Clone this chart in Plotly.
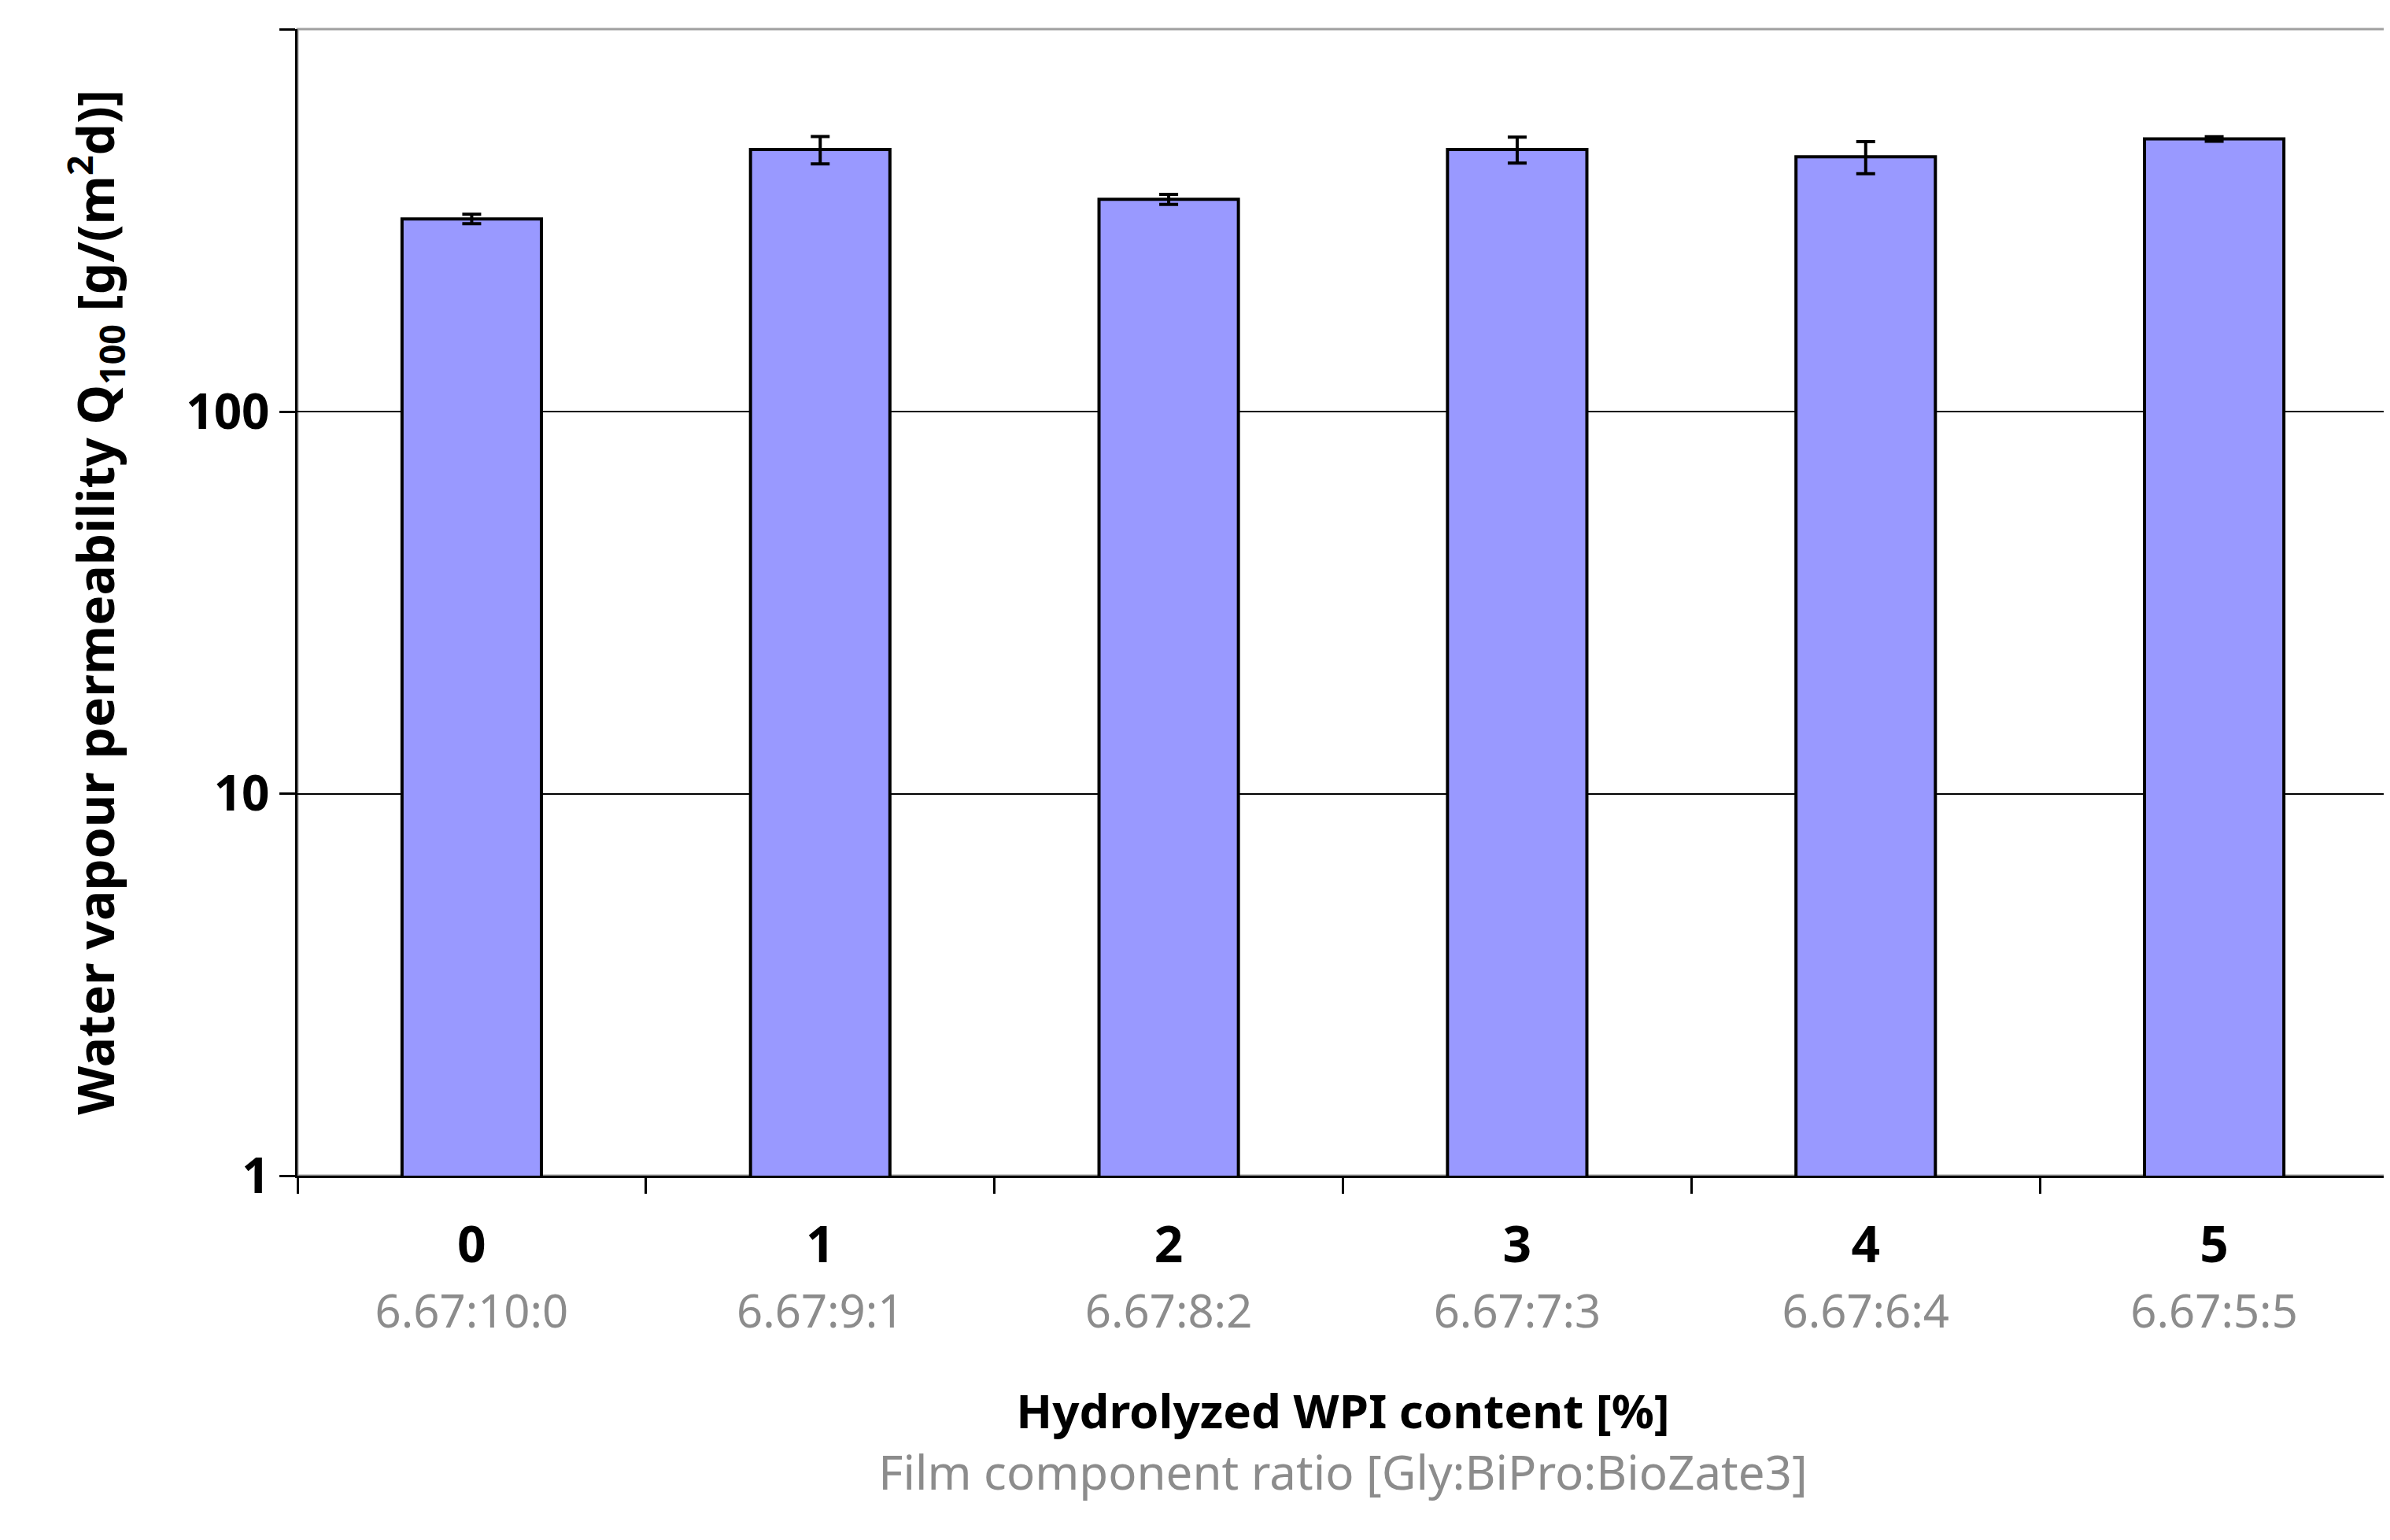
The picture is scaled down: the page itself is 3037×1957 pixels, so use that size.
import plotly.graph_objects as go

# --- data ---
hwpi = ["0", "1", "2", "3", "4", "5"]
ratios = ["6.67:10:0", "6.67:9:1", "6.67:8:2", "6.67:7:3", "6.67:6:4", "6.67:5:5"]
q100 = [320, 486, 360, 486, 465, 518]
q100_err = [9, 40, 11, 38, 45, 7]

GRAY = "#8c8c8c"
FONT = "Noto Sans"

ticktext = [f"<b>{a}</b><br><span style='color:{GRAY};font-weight:normal;font-size:58px'>{b}</span>"
            for a, b in zip(hwpi, ratios)]

fig = go.Figure()
fig.add_trace(go.Bar(
    x=hwpi, y=q100,
    width=0.4,
    marker=dict(color="#9999ff", line=dict(color="black", width=4)),
    error_y=dict(type="data", array=q100_err, visible=True,
                 color="black", thickness=4, width=12),
))

# gray frame on top/right
fig.add_shape(type="rect", xref="paper", yref="paper", x0=0, x1=1, y0=0, y1=1,
              line=dict(color="#a0a0a0", width=3), layer="below")

fig.update_layout(
    width=3037, height=1957,
    paper_bgcolor="white", plot_bgcolor="white",
    font=dict(family=FONT, color="black"),
    margin=dict(l=370, r=10, t=29, b=471),
    bargap=0.6,
    showlegend=False,
)
fig.update_xaxes(
    tickmode="array", tickvals=hwpi, ticktext=ticktext,
    tickfont=dict(size=64, color="black"),
    showline=True, linecolor="black", linewidth=3,
    ticks="outside", tickson="boundaries", ticklen=20, tickcolor="black", tickwidth=3,
    ticklabelstandoff=30,
    title=dict(
        text=f"<b>Hydrolyzed WPI content [%]</b><br><span style='color:{GRAY};font-weight:normal;font-size:60px'>Film component ratio [Gly:BiPro:BioZate3]</span>",
        font=dict(size=60, color="black"), standoff=70),
)
fig.update_yaxes(
    type="log", range=[0, 3.002],
    tickvals=[1, 10, 100, 1000], ticktext=["<b>1</b>", "<b>10</b>", "<b>100</b>", "<b>1000</b>"],
    tickfont=dict(size=62, color="black"),
    showline=True, linecolor="black", linewidth=3,
    ticks="outside", ticklen=20, tickcolor="black", tickwidth=3,
    showgrid=True, gridcolor="black", gridwidth=2,
    title=dict(text="<b>Water vapour permeability Q<sub>100</sub> [g/(m<sup>2</sup>d)]</b>",
               font=dict(size=64, color="black"), standoff=70),
)

fig.write_html("out.html")
